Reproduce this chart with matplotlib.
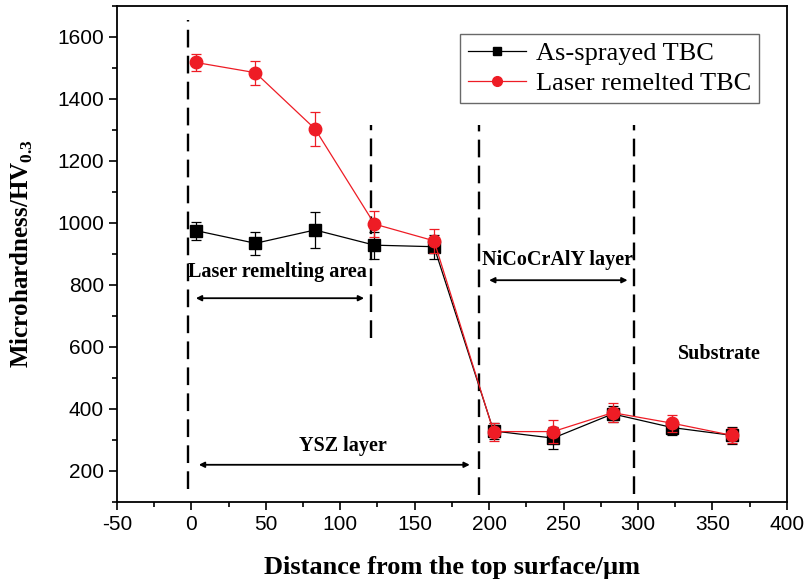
#!/usr/bin/env python3
# -*- coding: utf-8 -*-
"""Microhardness profile of as-sprayed vs laser remelted TBC."""

import matplotlib
matplotlib.use('Agg')
import matplotlib.pyplot as plt
from matplotlib.lines import Line2D
from matplotlib.ticker import MultipleLocator

plt.rcParams['axes.unicode_minus'] = False
plt.rcParams['mathtext.fontset'] = 'custom'
plt.rcParams['mathtext.rm'] = 'Liberation Serif'
plt.rcParams['mathtext.bf'] = 'Liberation Serif:bold'

distance = [3, 43, 83, 123, 163, 203, 243, 283, 323, 363]

as_sprayed = [975, 934, 977, 928, 923, 329, 306, 384, 340, 315]
as_sprayed_err = [29, 37, 57, 43, 38, 25, 36, 25, 25, 27]

laser = [1517, 1484, 1303, 996, 942, 327, 327, 388, 354, 315]
laser_err = [27, 39, 54, 43, 38, 29, 37, 30, 28, 25]

# layer boundaries: x, y bottom, y top
boundaries = [(-2, 142, 1653), (120.5, 628, 1314), (193, 122, 1316), (297.5, 125, 1316)]

serif = 'Liberation Serif'
red = '#ee1c25'

fig = plt.figure(figsize=(8.10, 5.87), dpi=100)
ax = fig.add_axes([0.1444, 0.1448, 0.827, 0.8455])

for x, y0, y1 in boundaries:
    ax.plot([x, x], [y0, y1], color='black', lw=1.7, ls=(0, (7.5, 3.5)), zorder=1)

ax.errorbar(distance, as_sprayed, yerr=as_sprayed_err, color='black', lw=0.9,
            marker='s', ms=8, capsize=3.5, elinewidth=0.9, capthick=0.9, zorder=3)
ax.errorbar(distance, laser, yerr=laser_err, color=red, lw=0.9,
            marker='o', ms=9, capsize=3.5, elinewidth=0.9, capthick=0.9, zorder=4)

ax.set_xlim(-50, 400)
ax.set_ylim(100, 1700)
ax.xaxis.set_major_locator(MultipleLocator(50))
ax.xaxis.set_minor_locator(MultipleLocator(25))
ax.set_yticks([200, 400, 600, 800, 1000, 1200, 1400, 1600])
ax.yaxis.set_minor_locator(MultipleLocator(100))
ax.tick_params(which='major', length=6, width=1.2, labelsize=15, direction='out')
ax.tick_params(which='minor', length=3.5, width=1.2, direction='out')
for lab in ax.get_xticklabels() + ax.get_yticklabels():
    lab.set_family('Liberation Sans')
for sp in ax.spines.values():
    sp.set_linewidth(1.3)

ax.set_xlabel('Distance from the top surface/\u03bcm', family=serif,
              fontweight='bold', fontsize=19, labelpad=16)
ax.set_ylabel('Microhardness/HV$_{\\mathbf{0.3}}$', family=serif,
              fontweight='bold', fontsize=18, labelpad=16)

# region annotations
ann = dict(family=serif, fontweight='bold', fontsize=14.5, ha='center', va='center')
arrow = dict(arrowstyle='<|-|>', mutation_scale=8, color='black', lw=1.3,
             shrinkA=0, shrinkB=0)

ax.text(58, 841, 'Laser remelting area', **ann)
ax.annotate('', xy=(3, 757), xytext=(116, 757), arrowprops=arrow)

ax.text(102, 282, 'YSZ layer', **ann)
ax.annotate('', xy=(5, 220), xytext=(187, 220), arrowprops=arrow)

ax.text(246, 880, 'NiCoCrAlY layer', **ann)
ax.annotate('', xy=(200, 815), xytext=(293, 815), arrowprops=arrow)

ax.text(355, 577, 'Substrate', **ann)

handles = [
    Line2D([], [], color='black', lw=0.9, marker='s', ms=6),
    Line2D([], [], color=red, lw=0.9, marker='o', ms=7),
]
labels = ['As-sprayed TBC', 'Laser remelted TBC']
leg = ax.legend(handles, labels, loc='upper right', bbox_to_anchor=(0.958, 0.9435),
                borderaxespad=0, prop={'family': serif, 'size': 19}, frameon=True,
                fancybox=False, edgecolor='#444444', handlelength=2.2,
                handletextpad=0.35, borderpad=0.3, labelspacing=0.25)
leg.get_frame().set_linewidth(1.0)

fig.savefig('out.png', dpi=100)
